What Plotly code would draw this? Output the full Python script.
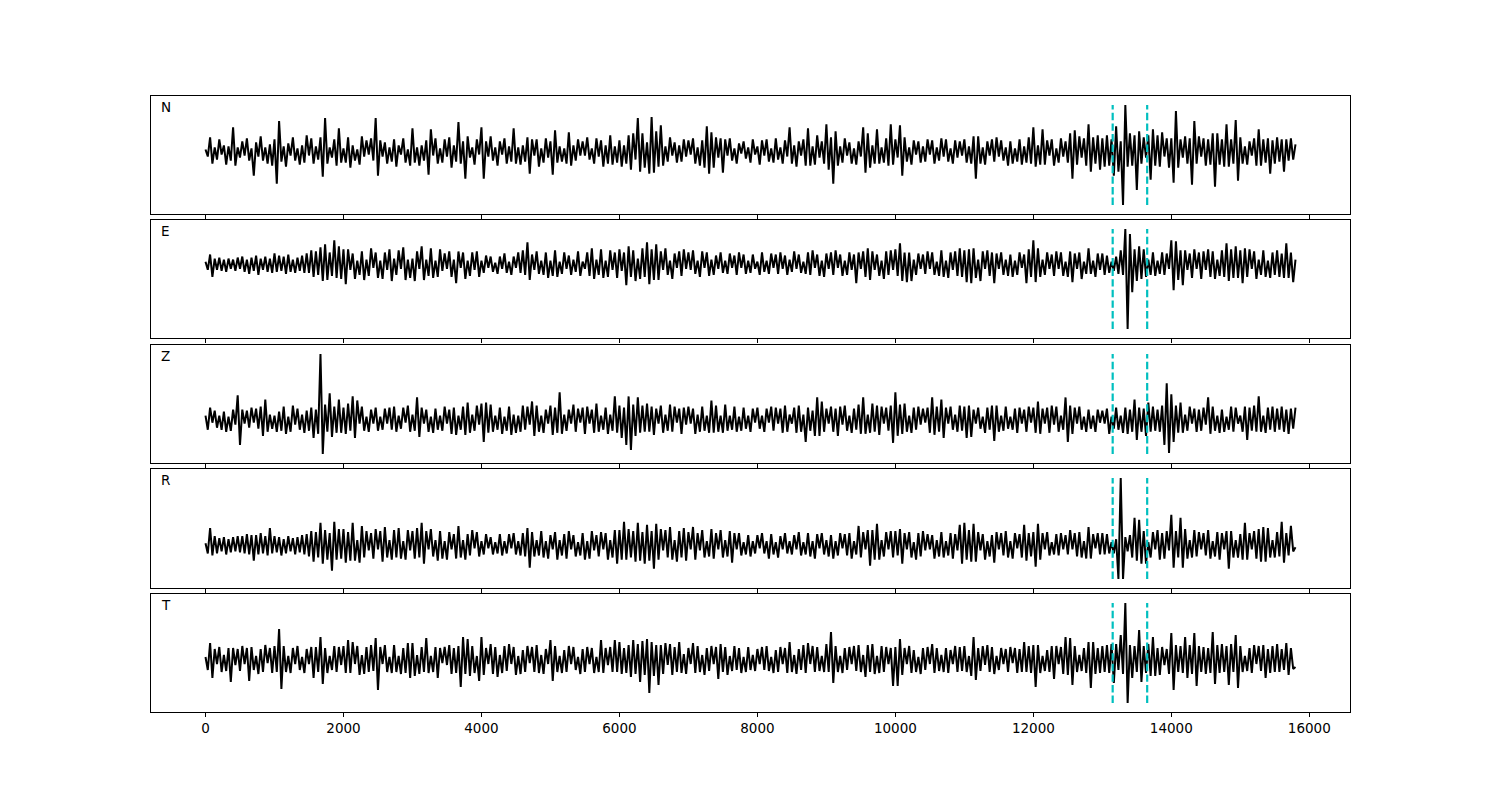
import plotly.graph_objects as go
from plotly.subplots import make_subplots

# time span of the traces (x units); samples are evenly spaced over it
t_end = 15800
pick_times = [13150, 13650]
components = ["N", "E", "Z", "R", "T"]
xtick_vals = [0, 2000, 4000, 6000, 8000, 10000, 12000, 14000, 16000]

trace_N = [
    2, -5, 14, -12, 4, -8, 12, -3, 6, -13, 5, -9, 24, -14, 4,
    -6, 10, -4, 13, -9, 3, -24, 9, -5, 15, -9, 4, -12, 7, -14,
    12, -32, 30, -10, 5, -15, 8, -4, 14, -9, 3, -13, 6, -11, 16,
    -4, 13, -12, 5, -8, 14, -25, 33, -12, 4, -6, 12, -14, 23, -11,
    3, -11, 14, -16, 6, -9, 2, -13, 15, -5, 11, -3, 13, -9, 33,
    -24, 11, -5, 9, -12, 4, -10, 12, -15, 6, -3, 13, -11, 2, -14,
    23, -11, 4, -14, 6, -9, 11, -23, 22, -4, 13, -12, 3, -11, 12,
    -5, 14, -16, 6, -10, 29, -12, 10, -27, 15, -6, 4, -13, 12, -3,
    24, -27, 10, -5, 15, -9, 4, -14, 10, -3, 13, -12, 5, -10, 23,
    -12, 4, -13, 6, -10, 14, -22, 12, -4, 12, -15, 3, -11, 13, -6,
    10, -23, 21, -11, 5, -10, 3, -12, 19, -14, 6, -9, 12, -4, 10,
    -4, 14, -8, 3, -12, 13, -5, 11, -15, 6, -12, 16, -13, 5, -11,
    11, -15, 6, -12, 16, -18, 18, -8, 33, -20, 18, -16, 9, -22, 34,
    -21, 20, -15, 26, -14, 5, -10, 14, -4, 9, -11, 6, -10, 12, -5,
    11, -3, 13, -12, 4, -14, 11, -16, 25, -22, 19, -16, 14, -6, 13,
    -21, 12, -4, 13, -9, 3, -12, 8, -2, 10, -7, 4, -11, 12, -3,
    5, -13, 11, -4, 12, -10, 3, -11, 13, -8, 4, -12, 11, -5, 24,
    -12, 6, -15, 10, -4, 12, -14, 23, -14, 5, -13, 16, -6, 10, -12,
    27, -18, 14, -32, 20, -14, 5, -11, 13, -4, 9, -12, 3, -13, 10,
    -5, 24, -21, 18, -16, 6, -12, 22, -12, 4, -11, 13, -14, 27, -13,
    12, -6, 26, -24, 14, -10, 4, -13, 11, -3, 10, -11, 5, -10, 12,
    -3, 11, -12, 4, -9, 13, -5, 12, -10, 3, -12, 11, -6, 10, -4,
    12, -11, 5, -12, 15, -27, 15, -12, 4, -13, 10, -4, 12, -10, 14,
    -5, 11, -9, 4, -14, 10, -12, 3, -10, 12, -13, 5, -11, 14, -12,
    24, -15, 6, -13, 22, -13, 11, -4, 12, -14, 3, -11, 13, -5, 10,
    -11, 18, -27, 21, -13, 15, -6, 13, -14, 27, -20, 14, -12, 16, -18,
    13, -15, 16, -14, 12, -24, 25, -20, 10, -53, 46, -15, 18, -14, 16,
    -38, 20, -12, 14, -6, 16, -28, 22, -14, 16, -15, 19, -5, 13, -16,
    13, -31, 40, -16, 12, -6, 15, -12, 13, -33, 30, -12, 15, -5, 13,
    -14, 12, -13, 18, -35, 18, -13, 12, -15, 27, -15, 12, -12, 31, -29,
    14, -12, 5, -13, 10, -4, 13, -14, 22, -14, 12, -11, 13, -22, 11,
    -12, 14, -10, 12, -20, 12, -9, 13, -8, 7,
]

trace_E = [
    3, -5, 10, -12, 6, -5, 7, -6, 5, -7, 6, -4, 5, -6, 7,
    -4, 8, -7, 5, -9, 7, -6, 9, -10, 6, -5, 8, -7, 6, -8,
    11, -7, 9, -6, 8, -9, 10, -7, 5, -8, 7, -6, 9, -8, 11,
    -8, 14, -12, 13, -10, 17, -16, 20, -15, 12, -11, 24, -13, 18, -14,
    15, -19, 15, -5, 11, -14, 4, -10, 13, -15, 5, -11, 16, -3, 12,
    -13, 4, -14, 12, -5, 15, -16, 6, -10, 14, -4, 17, -15, 5, -13,
    6, -16, 13, -4, 18, -15, 5, -11, 16, -13, 4, -12, 15, -6, 11,
    -4, 13, -12, 5, -18, 13, -3, 12, -14, 4, -11, 12, -5, 13, -12,
    4, -8, 9, -3, 8, -7, 2, -9, 8, -4, 11, -8, 3, -10, 8,
    -3, 12, -8, 14, -10, 22, -15, 10, -5, 13, -9, 4, -10, 12, -13,
    4, -11, 14, -12, 3, -9, 12, -4, 9, -10, 5, -7, 13, -11, 3,
    -4, 12, -11, 16, -14, 5, -10, 15, -13, 4, -12, 14, -5, 12, -13,
    15, -6, 12, -20, 18, -12, 14, -16, 6, -14, 16, -12, 22, -19, 15,
    -15, 20, -15, 13, -5, 16, -10, 4, -14, 11, -3, 13, -11, 15, -4,
    12, -5, 14, -9, 4, -12, 13, -3, 12, -11, 5, -10, 9, -4, 12,
    -8, 4, -9, 11, -3, 9, -10, 12, -3, 10, -9, 4, -8, 10, -4,
    3, -10, 12, -7, 4, -9, 11, -3, 10, -9, 12, -4, 9, -10, 5,
    -7, 13, -4, 10, -8, 3, -9, 12, -10, 14, -3, 10, -11, 4, -12,
    11, -4, 12, -10, 14, -3, 10, -11, 4, -10, 12, -5, 10, -18, 12,
    -4, 13, -12, 16, -15, 13, -5, 10, -11, 4, -14, 13, -10, 14, -5,
    15, -11, 21, -16, 12, -17, 12, -16, 5, -10, 11, -4, 10, -9, 13,
    -4, 12, -10, 3, -11, 14, -12, 4, -13, 12, -5, 13, -11, 16, -12,
    14, -17, 15, -18, 16, -13, 5, -16, 13, -4, 14, -11, 12, -18, 11,
    -4, 12, -10, 5, -11, 10, -12, 4, -10, 12, -3, 10, -18, 15, -12,
    24, -17, 16, -12, 5, -10, 12, -4, 10, -11, 13, -4, 12, -11, 3,
    -12, 13, -17, 11, -4, 12, -14, 3, -9, 16, -9, 4, -12, 11, -5,
    11, -10, 9, -8, 3, -6, 8, -9, 14, -10, 35, -63, 30, -27, 15,
    -16, 18, -14, 15, -12, 5, -10, 12, -11, 4, -9, 12, -10, 11, -4,
    24, -25, 23, -15, 14, -20, 14, -5, 11, -13, 15, -4, 12, -14, 13,
    -5, 15, -12, 13, -14, 5, -11, 14, -12, 21, -16, 15, -13, 18, -13,
    14, -18, 16, -12, 15, -4, 13, -14, 5, -10, 14, -12, 4, -13, 12,
    -10, 14, -12, 11, -13, 21, -13, 12, -17, 5,
]

trace_Z = [
    4, -10, 12, -3, 9, -8, 4, -10, 8, -12, 3, -11, 10, -5, 24,
    -25, 10, -4, 9, -8, 12, -3, 11, -9, 13, -16, 20, -12, 5, -9,
    4, -12, 8, -11, 13, -14, 3, -12, 14, -5, 11, -10, 5, -13, 9,
    -11, 12, -18, 10, -14, 65, -34, 15, -12, 26, -17, 13, -13, 20, -13,
    12, -14, 16, -11, 23, -18, 19, -4, 13, -11, 3, -12, 10, -4, 12,
    -11, 3, -10, 11, -4, 12, -10, 13, -12, 4, -9, 12, -3, 14, -12,
    5, -11, 22, -17, 12, -4, 10, -12, 3, -13, 11, -10, 4, -11, 13,
    -4, 10, -14, 12, -15, 4, -10, 13, -15, 17, -13, 5, -11, 14, -5,
    16, -22, 17, -13, 15, -12, 4, -10, 12, -14, 3, -11, 13, -15, 5,
    -13, 4, -12, 14, -10, 13, -5, 18, -16, 14, -12, 4, -13, 10, -4,
    14, -15, 12, -13, 27, -14, 5, -11, 10, -4, 15, -12, 11, -3, 12,
    -14, 13, -4, 10, -13, 16, -12, 4, -10, 12, -14, 5, -11, 23, -13,
    14, -18, 12, -25, 23, -30, 15, -16, 22, -13, 14, -12, 16, -12, 13,
    -15, 11, -4, 14, -13, 5, -11, 15, -12, 13, -3, 11, -14, 12, -5,
    13, -4, 11, -14, 5, -12, 13, -11, 4, -13, 19, -13, 14, -12, 4,
    -13, 15, -11, 4, -10, 13, -12, 3, -11, 12, -9, 4, -12, 11, -3,
    12, -9, 4, -12, 11, -3, 13, -11, 12, -4, 11, -13, 14, -12, 5,
    -4, 12, -13, 14, -12, 5, -22, 12, -11, 9, -16, 22, -16, 18, -12,
    11, -4, 13, -12, 11, -16, 13, -5, 14, -11, 4, -13, 11, -10, 15,
    -14, 22, -14, 5, -13, 16, -12, 14, -15, 13, -4, 12, -11, 14, -23,
    27, -16, 15, -14, 16, -12, 4, -13, 12, -10, 13, -5, 11, -3, 12,
    -13, 22, -15, 13, -12, 20, -18, 12, -4, 13, -10, 5, -12, 14, -11,
    13, -18, 14, -17, 10, -4, 12, -9, 3, -13, 12, -10, 14, -21, 14,
    -12, 4, -11, 13, -9, 3, -10, 11, -13, 12, -4, 10, -12, 13, -3,
    12, -13, 18, -14, 11, -4, 12, -13, 14, -5, 13, -12, 4, -10, 22,
    -22, 14, -14, 12, -4, 13, -10, 3, -12, 10, -9, 4, -12, 10, -3,
    9, -4, 11, -14, 3, -9, 12, -10, 4, -13, 12, -14, 10, -12, 20,
    -20, 12, -12, 11, -16, 17, -12, 13, -11, 10, -12, 14, -25, 36, -33,
    25, -22, 14, -13, 17, -13, 5, -11, 13, -4, 11, -12, 10, -11, 12,
    -5, 22, -14, 13, -11, 4, -13, 10, -12, 3, -10, 13, -12, 12, -4,
    4, -12, 13, -20, 12, -11, 14, -12, 23, -12, 4, -13, 12, -10, 13,
    -12, 11, -10, 13, -12, 10, -14, 11, -9, 12,
]

trace_R = [
    2, -8, 17, -10, 9, -8, 7, -6, 8, -9, 6, -7, 8, -6, 9,
    -7, 9, -8, 11, -9, 10, -15, 10, -9, 12, -8, 9, -10, 17, -8,
    9, -7, 8, -10, 6, -8, 9, -6, 7, -9, 8, -7, 10, -9, 11,
    -11, 14, -16, 13, -12, 22, -18, 15, -14, 12, -25, 23, -14, 16, -13,
    16, -17, 13, -15, 22, -15, 5, -17, 19, -12, 14, -5, 12, -13, 16,
    -4, 14, -16, 18, -12, 5, -14, 15, -12, 17, -13, 4, -14, 15, -5,
    14, -13, 17, -12, 22, -18, 14, -4, 16, -11, 5, -15, 14, -13, 4,
    -14, 13, -4, 11, -13, 19, -12, 5, -14, 11, -10, 15, -3, 13, -11,
    4, -9, 11, -3, 8, -9, 3, -8, 11, -10, 4, -8, 11, -3, 12,
    -9, 4, -10, 12, -11, 17, -22, 13, -11, 5, -10, 14, -12, 4, -13,
    10, -4, 13, -14, 5, -10, 11, -13, 14, -4, 10, -11, 3, -10, 12,
    -14, 4, -13, 14, -5, 10, -11, 13, -4, 12, -14, 5, -12, 15, -18,
    15, -14, 23, -14, 16, -12, 14, -16, 22, -15, 13, -18, 20, -15, 14,
    -23, 21, -14, 16, -5, 15, -12, 18, -14, 5, -16, 14, -12, 17, -15,
    13, -4, 18, -14, 12, -5, 15, -12, 4, -11, 16, -13, 12, -4, 15,
    -12, 5, -11, 14, -17, 12, -4, 12, -10, 3, -9, 10, -11, 4, -8,
    10, -3, 12, -8, 4, -13, 11, -9, 3, -12, 9, -4, 12, -8, 4,
    -9, 10, -4, 13, -10, 3, -9, 12, -11, 4, -13, 11, -3, 12, -9,
    5, -11, 10, -13, 4, -10, 12, -3, 11, -10, 12, -13, 4, -9, 19,
    -12, 13, -4, 15, -20, 15, -14, 21, -14, 5, -11, 13, -4, 14, -12,
    14, -10, 16, -18, 12, -4, 13, -12, 3, -14, 12, -11, 14, -5, 11,
    -4, 10, -13, 5, -11, 13, -12, 4, -10, 12, -13, 11, -5, 20, -18,
    22, -14, 15, -16, 21, -16, 13, -5, 11, -14, 4, -11, 10, -17, 13,
    -4, 12, -10, 14, -12, 4, -13, 12, -3, 11, -12, 20, -15, 12, -11,
    13, -21, 21, -14, 12, -4, 13, -10, 3, -9, 11, -10, 12, -4, 10,
    -9, 15, -4, 12, -11, 13, -12, 4, -13, 18, -13, 11, -3, 12, -9,
    12, -9, 11, -8, 3, -8, 6, -33, 66, -33, 8, -6, 10, -12, 27,
    -15, 25, -18, 14, -18, 3, -12, 13, -4, 15, -14, 12, -13, 14, -5,
    30, -22, 14, -12, 27, -22, 16, -13, 5, -12, 15, -11, 13, -4, 12,
    -10, 15, -13, 4, -11, 13, -14, 12, -4, 14, -23, 14, -12, 5, -12,
    11, -14, 22, -14, 12, -4, 14, -13, 16, -16, 18, -16, 17, -12, 5,
    -12, 13, -11, 23, -17, 12, -10, 19, -6, -2,
]

trace_T = [
    3, -10, 17, -18, 11, -4, 13, -12, 5, -11, 12, -22, 12, -5, 11,
    -11, 14, -4, 12, -21, 13, -10, 4, -14, 11, -12, 15, -3, 12, -13,
    14, -12, 31, -29, 14, -12, 4, -13, 12, -4, 14, -10, 3, -13, 11,
    -4, 13, -18, 13, -12, 23, -24, 12, -13, 4, -10, 14, -12, 13, -5,
    14, -13, 20, -13, 18, -4, 14, -15, 5, -14, 13, -12, 15, -11, 22,
    -30, 13, -4, 15, -12, 3, -13, 15, -12, 4, -14, 12, -13, 17, -18,
    17, -16, 5, -14, 13, -12, 22, -13, 4, -12, 13, -18, 12, -3, 13,
    -5, 15, -14, 12, -13, 14, -27, 23, -14, 21, -16, 14, -13, 4, -21,
    23, -15, 12, -4, 16, -14, 13, -17, 5, -13, 14, -11, 16, -4, 13,
    -15, 4, -14, 10, -12, 14, -3, 13, -12, 15, -13, 5, -14, 11, -4,
    20, -21, 14, -12, 4, -13, 10, -12, 14, -4, 13, -10, 3, -14, 11,
    -12, 13, -4, 12, -13, 3, -12, 20, -13, 12, -5, 13, -12, 20, -12,
    18, -14, 12, -13, 15, -17, 20, -14, 16, -22, 19, -15, 21, -33, 18,
    -16, 15, -25, 15, -14, 17, -5, 16, -15, 13, -12, 18, -13, 6, -14,
    12, -4, 17, -13, 14, -12, 5, -15, 12, -11, 14, -4, 13, -19, 16,
    -12, 13, -15, 4, -11, 14, -10, 12, -13, 3, -12, 13, -10, 5, -11,
    11, -4, 13, -10, 14, -11, 3, -13, 10, -12, 13, -4, 12, -13, 18,
    -12, 5, -14, 11, -10, 15, -13, 17, -4, 14, -12, 13, -11, 4, -12,
    16, -12, 28, -23, 14, -12, 4, -13, 12, -10, 13, -4, 14, -11, 15,
    -12, 5, -17, 15, -12, 16, -14, 4, -13, 14, -12, 13, -4, 12, -26,
    13, -26, 21, -15, 12, -4, 14, -13, 10, -12, 3, -14, 12, -10, 13,
    -4, 16, -13, 12, -11, 5, -12, 12, -13, 10, -4, 14, -12, 13, -11,
    14, -12, 4, -16, 23, -20, 12, -11, 14, -5, 15, -12, 13, -14, 4,
    -10, 12, -4, 11, -12, 13, -3, 12, -13, 11, -12, 18, -12, 14, -13,
    15, -27, 15, -13, 4, -11, 10, -12, 14, -19, 14, -4, 13, -14, 23,
    -15, 22, -25, 14, -12, 5, -11, 12, -13, 18, -28, 18, -14, 12, -13,
    14, -12, 15, -13, 16, -23, 16, -10, 25, -14, 57, -43, 15, -18, 14,
    -12, 30, -22, 14, -13, 16, -16, 23, -16, 12, -15, 13, -5, 11, -14,
    27, -30, 15, -12, 14, -13, 23, -18, 15, -14, 27, -26, 14, -12, 13,
    -14, 12, -13, 28, -24, 15, -13, 16, -12, 14, -25, 16, -12, 25, -28,
    14, -12, 4, -11, 12, -13, 15, -4, 14, -11, 15, -18, 11, -13, 14,
    -12, 16, -12, 11, -10, 17, -15, 12, -9, -7,
]

traces = [trace_N, trace_E, trace_Z, trace_R, trace_T]

fig = make_subplots(rows=5, cols=1, shared_xaxes=True, vertical_spacing=0.01)

# panel pixel boxes (top, bottom) in the page
panels = [(96, 214), (220, 338), (345, 463), (469, 588), (594, 712)]
plot_top, plot_bottom = 96, 712
ph = plot_bottom - plot_top

font = dict(family="DejaVu Sans", size=13.5, color="black")

for k, (name, vals) in enumerate(zip(components, traces)):
    row = k + 1
    n = len(vals)
    xs = [t_end * i / (n - 1) for i in range(n)]
    fig.add_trace(go.Scatter(x=xs, y=vals, mode="lines",
                             line=dict(color="black", width=2),
                             showlegend=False, hoverinfo="skip"),
                  row=row, col=1)
    lo, hi = min(vals), max(vals)
    for t in pick_times:
        fig.add_trace(go.Scatter(x=[t, t], y=[lo, hi], mode="lines",
                                 line=dict(color="#00BFBF", width=2.2, dash="7.4px,3.2px"),
                                 showlegend=False, hoverinfo="skip"),
                      row=row, col=1)
    span = hi - lo
    pad = 0.09 * span
    top, bot = panels[k]
    dom = [(plot_bottom - bot) / ph, (plot_bottom - top) / ph]
    yname = "yaxis" if row == 1 else f"yaxis{row}"
    xname = "xaxis" if row == 1 else f"xaxis{row}"
    fig.layout[yname].update(domain=dom, range=[lo - pad, hi + pad],
                             showticklabels=False, ticks="", showgrid=False,
                             zeroline=False, showline=True, mirror=True,
                             linecolor="black", linewidth=1)
    fig.layout[xname].update(range=[-790, 16590], tickvals=xtick_vals,
                             ticktext=[str(v) for v in xtick_vals],
                             ticks="outside", ticklen=4, tickwidth=1,
                             tickcolor="black", showgrid=False, zeroline=False,
                             showline=True, mirror=True, linecolor="black",
                             linewidth=1, showticklabels=(row == 5),
                             tickfont=font)
    xref = "x domain" if row == 1 else f"x{row} domain"
    yref = "y domain" if row == 1 else f"y{row} domain"
    fig.add_annotation(text=name, xref=xref, yref=yref, x=0.007, y=0.99,
                       xanchor="left", yanchor="top", showarrow=False,
                       font=font)

# the page body adds an 8px offset, so margins are shifted to compensate
fig.update_layout(width=1500, height=800, plot_bgcolor="white",
                  paper_bgcolor="white",
                  margin=dict(l=143, r=158, t=88, b=96))

fig.write_html("out.html")
